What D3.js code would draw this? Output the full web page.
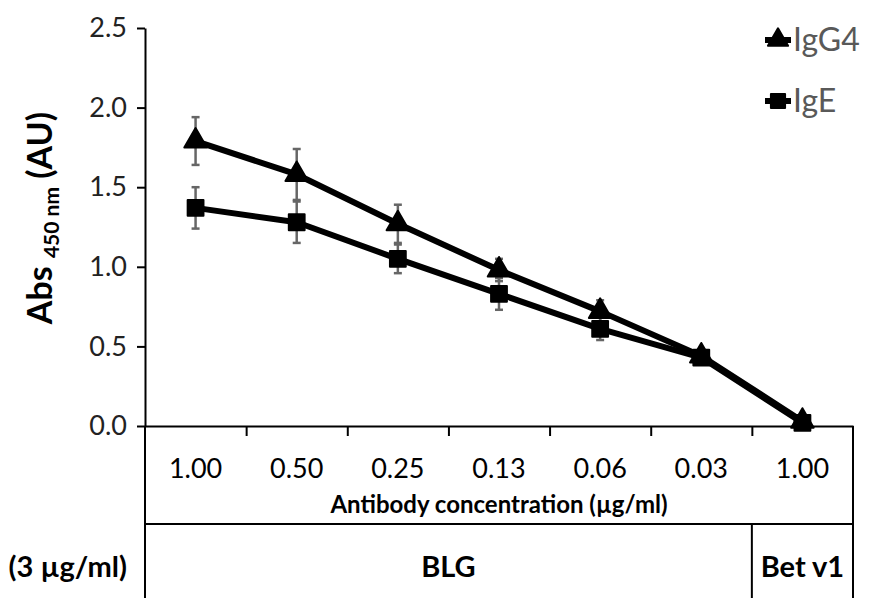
<!DOCTYPE html>
<html>
<head>
<meta charset="utf-8">
<script src="https://cdn.jsdelivr.net/npm/d3@7"></script>
<style>
  body { margin: 0; background: #fff; }
  svg { display: block; font-family: Lato, "Open Sans", sans-serif; }
</style>
</head>
<body>
<script>
var concLabels = ["1.00", "0.50", "0.25", "0.13", "0.06", "0.03", "1.00"];
var igg4 = [1.79, 1.58, 1.27, 0.98, 0.72, 0.44, 0.03];
var igg4Err = [0.15, 0.16, 0.12, 0.07, 0.07, 0.02, 0.02];
var ige = [1.37, 1.28, 1.05, 0.83, 0.61, 0.43, 0.02];
var igeErr = [0.13, 0.13, 0.09, 0.10, 0.07, 0.02, 0.02];
var yTicks = [0, 0.5, 1.0, 1.5, 2.0, 2.5];
var groups = [{name: "BLG", from: 0, to: 6}, {name: "Bet v1", from: 6, to: 7}];

var svgWidth = 880;
var svgHeight = 598;
var plot = {left: 145, right: 853, top: 28, bottom: 426};

var svg = d3.select("body")
  .append("svg")
  .attr("width", svgWidth)
  .attr("height", svgHeight);

var xScale = d3.scaleLinear()
  .domain([0, concLabels.length])
  .range([plot.left, plot.right]);

var yScale = d3.scaleLinear()
  .domain([0, 2.5])
  .range([plot.bottom, plot.top]);

// y axis
var yAxis = svg.append("g")
  .attr("transform", `translate(${plot.left},0)`)
  .call(d3.axisLeft(yScale).tickValues(yTicks).tickFormat(d3.format(".1f")).tickSize(8).tickSizeOuter(0).tickPadding(10));
yAxis.selectAll("text").attr("font-size", 27).attr("fill", "#222").attr("font-family", "Lato, sans-serif");
yAxis.selectAll("line, path").attr("stroke", "#000").attr("stroke-width", 2);

// x axis ticks between categories
var xAxis = svg.append("g")
  .attr("transform", `translate(0,${plot.bottom})`)
  .call(d3.axisBottom(xScale).tickValues([1, 2, 3, 4, 5, 6]).tickFormat("").tickSize(10).tickSizeOuter(0));
xAxis.selectAll("line, path").attr("stroke", "#000").attr("stroke-width", 2);

// category labels
svg.append("g")
  .selectAll("text")
  .data(concLabels)
  .enter()
  .append("text")
  .attr("x", (d, i) => xScale(i + 0.5))
  .attr("y", 478)
  .attr("text-anchor", "middle")
  .attr("font-size", 27)
  .text(d => d);

svg.append("text")
  .attr("x", (plot.left + plot.right) / 2)
  .attr("y", 513)
  .attr("text-anchor", "middle")
  .attr("font-size", 24)
  .attr("font-weight", "bold")
  .text("Antibody concentration (µg/ml)");

// table lines
var tbl = svg.append("g").attr("stroke", "#000").attr("stroke-width", 2);
tbl.append("line").attr("x1", plot.left).attr("x2", plot.left).attr("y1", plot.bottom).attr("y2", svgHeight);
tbl.append("line").attr("x1", plot.right).attr("x2", plot.right).attr("y1", plot.bottom).attr("y2", svgHeight);
tbl.append("line").attr("x1", plot.left).attr("x2", plot.right).attr("y1", 524).attr("y2", 524);
tbl.append("line").attr("x1", xScale(6)).attr("x2", xScale(6)).attr("y1", 524).attr("y2", svgHeight);

svg.append("g")
  .selectAll("text")
  .data(groups)
  .enter()
  .append("text")
  .attr("x", d => xScale((d.from + d.to) / 2))
  .attr("y", 577)
  .attr("text-anchor", "middle")
  .attr("font-size", 29)
  .attr("font-weight", "bold")
  .text(d => d.name);

svg.append("text")
  .attr("x", 127)
  .attr("y", 577)
  .attr("text-anchor", "end")
  .attr("font-size", 29)
  .attr("font-weight", "bold")
  .text("(3 µg/ml)");

// y title
var yTitle = svg.append("text")
  .attr("transform", "translate(52,218) rotate(-90)")
  .attr("text-anchor", "middle")
  .attr("font-size", 34)
  .attr("font-weight", "bold");
yTitle.append("tspan").text("Abs ");
yTitle.append("tspan").attr("font-size", 21).attr("dy", 7).text("450 nm");
yTitle.append("tspan").attr("dy", -7).text(" (AU)");

var series = [
  {name: "IgG4", values: igg4, err: igg4Err, shape: d3.symbolTriangle, size: 220},
  {name: "IgE", values: ige, err: igeErr, shape: d3.symbolSquare, size: 250}
];

var line = d3.line()
  .x((d, i) => xScale(i + 0.5))
  .y(d => yScale(d));

series.forEach(function(s) {
  var eb = svg.append("g").attr("stroke", "#666").attr("stroke-width", 2.5);
  s.values.forEach(function(v, i) {
    var cx = xScale(i + 0.5);
    eb.append("line").attr("x1", cx).attr("x2", cx).attr("y1", yScale(v - s.err[i])).attr("y2", yScale(v + s.err[i]));
    eb.append("line").attr("x1", cx - 4).attr("x2", cx + 4).attr("y1", yScale(v - s.err[i])).attr("y2", yScale(v - s.err[i]));
    eb.append("line").attr("x1", cx - 4).attr("x2", cx + 4).attr("y1", yScale(v + s.err[i])).attr("y2", yScale(v + s.err[i]));
  });
});

series.forEach(function(s) {
  svg.append("path")
    .datum(s.values)
    .attr("fill", "none")
    .attr("stroke", "#000")
    .attr("stroke-width", 6)
    .attr("stroke-linejoin", "round")
    .attr("d", line);
  svg.append("g")
    .selectAll("path")
    .data(s.values)
    .enter()
    .append("path")
    .attr("transform", (d, i) => `translate(${xScale(i + 0.5)},${yScale(d)})`)
    .attr("d", d3.symbol().type(s.shape).size(s.size))
    .attr("fill", "#000")
    .attr("stroke", "#000")
    .attr("stroke-width", 2)
    .attr("stroke-linejoin", "round");
});

// legend
var legend = svg.append("g")
  .selectAll("g")
  .data(series)
  .enter()
  .append("g")
  .attr("transform", (d, i) => `translate(765,${40 + i * 61})`);
legend.append("line").attr("x1", 0).attr("x2", 26).attr("stroke", "#000").attr("stroke-width", 6);
legend.append("path")
  .attr("transform", "translate(13,0)")
  .attr("d", d => d3.symbol().type(d.shape).size(d.size * 0.8)())
  .attr("fill", "#000")
  .attr("stroke", "#000")
  .attr("stroke-width", 2)
  .attr("stroke-linejoin", "round");
legend.append("text")
  .attr("x", 28)
  .attr("y", 11)
  .attr("font-size", 32)
  .attr("fill", "#595959")
  .text(d => d.name);
</script>
</body>
</html>
